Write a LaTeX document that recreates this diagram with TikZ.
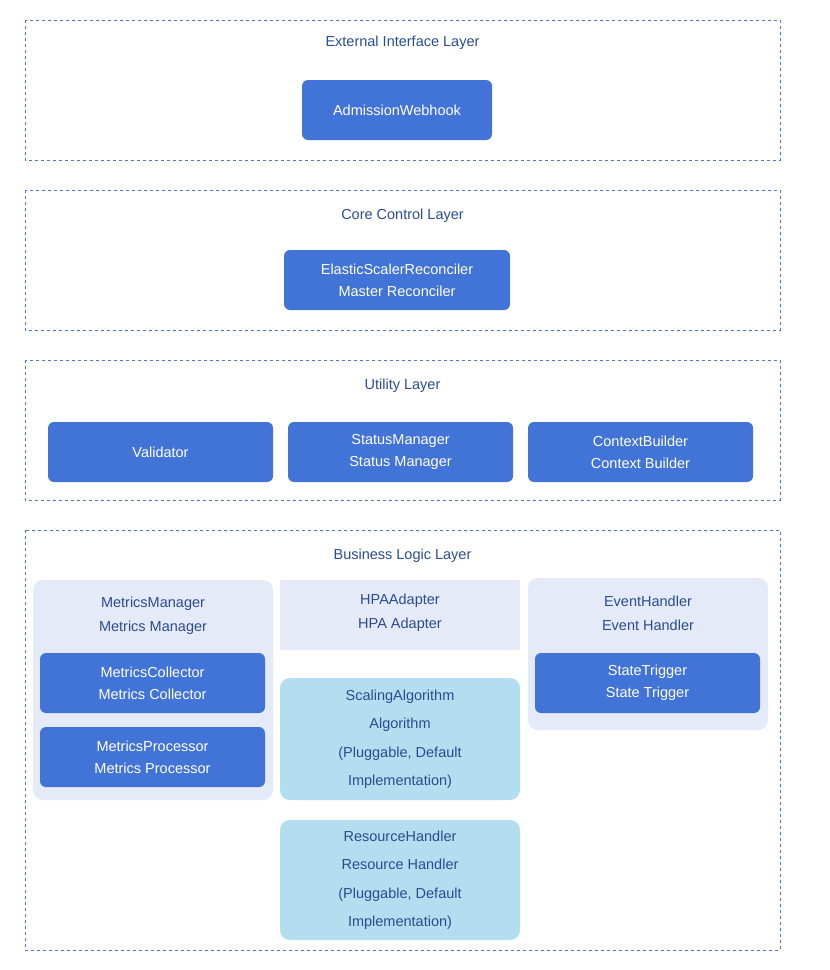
\documentclass[tikz,border=0pt]{standalone}
\usepackage{fontspec}
\setmainfont{Liberation Sans}
\begin{document}
\begin{tikzpicture}[x=1pt,y=-1pt,
  layer/.style={draw=lineblue,dashed,line width=1pt},
  ltitle/.style={text=titleblue,font=\fontsize{14.5}{17}\selectfont},
  comp/.style={fill=compblue,rounded corners=6pt,text=white,font=\fontsize{14.5}{22}\selectfont,align=center},
  grp/.style={fill=grpfill,rounded corners=10pt},
  plug/.style={fill=plugblue,rounded corners=10pt},
  gtext/.style={text=titleblue,font=\fontsize{14.5}{23}\selectfont,align=center}]
\definecolor{lineblue}{HTML}{4A78D6}
\definecolor{titleblue}{HTML}{2B4C8F}
\definecolor{compblue}{HTML}{4274D8}
\definecolor{grpfill}{HTML}{E4EAF8}
\definecolor{plugblue}{HTML}{B2DEEF}
\useasboundingbox (0,0) rectangle (830,970);
\draw[layer] (25,20) rectangle (780,160);
\node[ltitle] (t1) at (402.5,43) {External Interface Layer};
\draw[layer] (25,190) rectangle (780,330);
\node[ltitle] (t2) at (402.5,216) {Core Control Layer};
\draw[layer] (25,360) rectangle (780,500);
\node[ltitle] (t3) at (402.5,386) {Utility Layer};
\draw[layer] (25,530) rectangle (780,950);
\node[ltitle] (t4) at (402.5,556) {Business Logic Layer};

\fill[comp] (302,80) rectangle (492,140);
\node[comp,fill=none] (aw) at (397,110) {AdmissionWebhook};
\fill[comp] (284,250) rectangle (510,310);
\node[comp,fill=none] (esr) at (397,280) {ElasticScalerReconciler\\Master Reconciler};
\fill[comp] (48,422) rectangle (273,482);
\node[comp,fill=none] (val) at (160.5,452) {Validator};
\fill[comp] (288,422) rectangle (513,482);
\node[comp,fill=none] (sm) at (400.5,452) {StatusManager\\Status Manager};
\fill[comp] (528,422) rectangle (753,482);
\node[comp,fill=none] (cb) at (640.5,452) {ContextBuilder\\Context Builder};

\fill[grp] (33,580) rectangle (273,800);
\node[gtext,font=\fontsize{14.5}{24}\selectfont] (mm) at (153,616) {MetricsManager\\Metrics Manager};
\fill[comp] (40,653) rectangle (265,713);
\node[comp,fill=none] (mc) at (152.5,683) {MetricsCollector\\Metrics Collector};
\fill[comp] (40,727) rectangle (265,787);
\node[comp,fill=none] (mp) at (152.5,757) {MetricsProcessor\\Metrics Processor};

\fill[grpfill,rounded corners=2pt] (280,580) rectangle (520,650);
\node[gtext,font=\fontsize{14.5}{24}\selectfont] (hpa) at (400,613) {HPAAdapter\\HPA Adapter};
\fill[plug] (280,678) rectangle (520,800);
\node[gtext,font=\fontsize{14.5}{28.5}\selectfont] (sa) at (400,739) {ScalingAlgorithm\\Algorithm\\(Pluggable, Default\\Implementation)};
\fill[plug] (280,820) rectangle (520,940);
\node[gtext,font=\fontsize{14.5}{28.5}\selectfont] (rh) at (400,880) {ResourceHandler\\Resource Handler\\(Pluggable, Default\\Implementation)};

\fill[grp] (528,578) rectangle (768,730);
\node[gtext,font=\fontsize{14.5}{24}\selectfont] (eh) at (648,613) {EventHandler\\Event Handler};
\fill[comp] (535,653) rectangle (760,713);
\node[comp,fill=none] (st) at (647.5,683) {StateTrigger\\State Trigger};
\end{tikzpicture}
\end{document}
